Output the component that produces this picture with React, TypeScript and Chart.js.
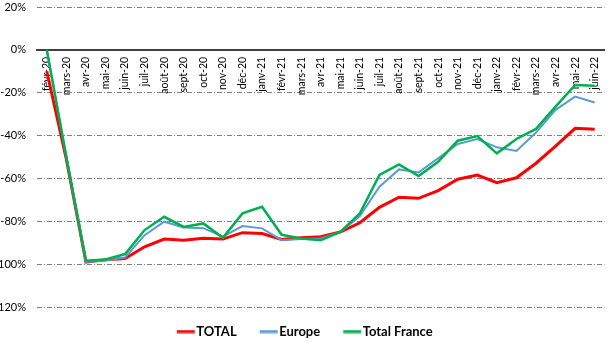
import React, { useEffect, useRef } from 'react';
import { Chart, registerables } from 'chart.js';

Chart.register(...registerables);

const categories = [
  'févr-20', 'mars-20', 'avr-20', 'mai-20', 'juin-20', 'juil-20', 'août-20', 'sept-20', 'oct-20', 'nov-20', 'déc-20',
  'janv-21', 'févr-21', 'mars-21', 'avr-21', 'mai-21', 'juin-21', 'juil-21', 'août-21', 'sept-21', 'oct-21', 'nov-21', 'déc-21',
  'janv-22', 'févr-22', 'mars-22', 'avr-22', 'mai-22', 'juin-22',
];

const totalValues = [
  -10, -51, -99, -98, -97.4, -91.9, -88.3, -88.9, -87.9, -88.3, -85.3,
  -85.7, -88.5, -87.7, -87.2, -85, -80.7, -73.5, -68.8, -69.3, -65.7, -60.4, -58.4,
  -62, -59.7, -52.9, -44.9, -36.6, -37,
];

const europeValues = [
  0, -50, -99, -98.3, -96.9, -86.5, -80.2, -82.9, -83.2, -87.2, -82.2,
  -83.3, -88.8, -88.3, -88, -85, -77.6, -63.9, -55.8, -57.2, -50.6, -43.9, -41.6,
  -45.5, -47.2, -38.6, -28, -21.8, -24.6,
];

const franceValues = [
  0, -50, -98.4, -97.8, -95.3, -84.1, -77.9, -82.6, -81, -87.7, -76.3,
  -73.2, -86.3, -88, -88.8, -85, -76.3, -58.4, -53.5, -58.9, -52.2, -42.4, -40.2,
  -48.3, -41.6, -36.9, -26.5, -16.4, -16.8,
];

const seriesNames = ['TOTAL', 'Europe', 'Total France'];
const seriesColors = ['#FF0000', '#5B9BD5', '#00B050'];
const yMin = -120;
const yMax = 20;
const yStep = 20;

const FONT = 'Lato, "Open Sans", sans-serif';

function legendLine(color: string): HTMLCanvasElement {
  const c = document.createElement('canvas');
  c.width = 30;
  c.height = 4;
  const ctx = c.getContext('2d');
  if (ctx) {
    ctx.fillStyle = color;
    ctx.fillRect(11, 0.5, 18, 3);
  }
  return c;
}

export default function App() {
  const canvasRef = useRef<HTMLCanvasElement | null>(null);

  useEffect(() => {
    const canvas = canvasRef.current;
    if (!canvas) return;
    const widths = [3, 2, 2.5];
    const orders = [3, 2, 1];
    const values = [totalValues, europeValues, franceValues];
    const chart = new Chart(canvas, {
      type: 'line',
      data: {
        labels: categories,
        datasets: seriesNames.map((name, i) => ({
          label: name,
          data: values[i],
          borderColor: seriesColors[i],
          backgroundColor: seriesColors[i],
          borderWidth: widths[i],
          pointRadius: 0,
          pointStyle: legendLine(seriesColors[i]) as any,
          tension: 0,
          order: orders[i],
        })),
      },
      options: {
        responsive: false,
        animation: false,
        layout: { padding: { top: 7, right: 9.5, bottom: -5, left: 0 } },
        plugins: {
          tooltip: { enabled: false },
          legend: {
            position: 'bottom',
            labels: {
              usePointStyle: true,
              pointStyleWidth: 18,
              padding: 18,
              color: '#000',
              font: { family: FONT, size: 13, weight: 'bold' },
              sort: (a: any, b: any) => a.datasetIndex - b.datasetIndex,
            },
          },
        },
        scales: {
          x: {
            type: 'category',
            position: { y: 0 } as any,
            offset: true,
            grid: { display: false, drawTicks: true, tickLength: 7 },
            border: { display: true, color: '#404040', width: 2 },
            ticks: {
              autoSkip: false,
              minRotation: 90,
              maxRotation: 90,
              padding: 0,
              color: '#000',
              font: { family: FONT, size: 10.5 },
            },
          },
          y: {
            min: yMin,
            max: yMax,
            grid: { color: '#808080', lineWidth: 1, drawTicks: false },
            border: { display: false, dash: [5, 2, 1, 2] },
            ticks: {
              stepSize: yStep,
              padding: 11,
              color: '#000',
              font: { family: FONT, size: 11 },
              callback: (v: any) => `${v}%`,
            },
            afterFit: (scale: any) => {
              scale.width = 37;
              scale.paddingTop = 0;
              scale.paddingBottom = 0;
            },
          },
        },
      },
    });
    return () => chart.destroy();
  }, []);

  return (
    <div style={{ position: 'absolute', left: 0, top: 0, width: 614, height: 343 }}>
      <canvas ref={canvasRef} width={614} height={343} style={{ display: 'block' }} />
    </div>
  );
}
